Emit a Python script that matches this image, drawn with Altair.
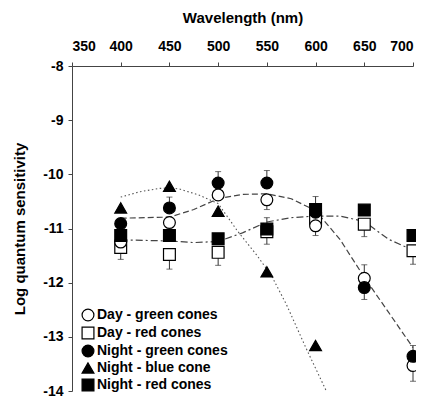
import altair as alt
import pandas as pd

# ---------------- data ----------------
wavelengths = [400, 450, 500, 550, 600, 650, 700]
series_names = ["Day - green cones", "Day - red cones", "Night - green cones",
                "Night - blue cone", "Night - red cones"]
series_shapes = ["circle", "square", "circle", "triangle-up", "square"]
series_fills = ["white", "white", "black", "black", "black"]

day_green = [-11.25, -10.89, -10.38, -10.47, -10.95, -11.92, -13.53]
day_red = [-11.35, -11.48, -11.44, -11.06, -10.82, -10.92, -11.41]
night_green = [-10.91, -10.62, -10.16, -10.16, -10.70, -12.09, -13.36]
night_blue = [-10.62, -10.22, -10.68, -11.80, -13.16, None, None]
night_red = [-11.13, -11.13, -11.19, -11.01, -10.65, -10.66, -11.13]

# error bars: series, wavelength, end value
err_series = ["Day - red cones", "Day - red cones", "Day - red cones", "Day - red cones", "Day - red cones",
              "Day - green cones", "Day - green cones", "Day - green cones", "Day - green cones",
              "Night - green cones", "Night - green cones", "Night - green cones", "Night - green cones",
              "Night - green cones",
              "Night - red cones", "Night - red cones", "Night - red cones"]
err_wl = [400, 450, 500, 650, 700,
          550, 600, 650, 700,
          450, 500, 550, 650, 700,
          550, 550, 600]
err_end = [-11.57, -11.75, -11.68, -11.15, -11.66,
           -10.65, -11.13, -11.67, -13.82,
           -10.42, -9.95, -9.93, -12.31, -13.16,
           -10.80, -11.29, -10.41]

# fitted template curves
blue_wl = [400, 420, 440, 450, 460, 480, 500, 520, 540, 555, 570, 590, 611]
blue_val = [-10.42, -10.32, -10.26, -10.25, -10.27, -10.38, -10.54, -11.05, -11.50, -11.88, -12.40, -13.20, -14.0]
green_wl = [400, 450, 475, 500, 525, 550, 575, 600, 625, 650, 675, 700]
green_val = [-10.81, -10.79, -10.65, -10.45, -10.37, -10.36, -10.45, -10.67, -11.20, -11.90, -12.55, -13.20]
red_wl = [400, 450, 475, 500, 525, 550, 575, 600, 625, 650, 675, 700]
red_val = [-11.21, -11.23, -11.26, -11.24, -11.08, -10.88, -10.80, -10.77, -10.77, -10.87, -11.20, -11.40]

# ---------------- tables ----------------
series_values = {
    "Day - red cones": day_red,
    "Day - green cones": day_green,
    "Night - green cones": night_green,
    "Night - red cones": night_red,
    "Night - blue cone": night_blue,
}
rows = []
for order, (name, vals) in enumerate(series_values.items()):
    for wl, v in zip(wavelengths, vals):
        if v is not None:
            rows.append({"series": name, "wl": wl, "val": v, "ord": order})
points_df = pd.DataFrame(rows)

lookup = {(r["series"], r["wl"]): r["val"] for r in rows}
err_df = pd.DataFrame({
    "series": err_series, "wl": err_wl, "end": err_end,
    "val": [lookup[(s, w)] for s, w in zip(err_series, err_wl)],
})

blue_df = pd.DataFrame({"wl": blue_wl, "val": blue_val})
green_df = pd.DataFrame({"wl": green_wl, "val": green_val})
red_df = pd.DataFrame({"wl": red_wl, "val": red_val})

FONT = "Liberation Sans"
AX = "#444444"

xscale = alt.Scale(domain=[350, 700], nice=False)
yscale = alt.Scale(domain=[-14, -8], nice=False)

x_enc = alt.X("wl:Q", scale=xscale, axis=alt.Axis(
    orient="top", values=[350, 400, 450, 500, 550, 600, 650, 700], title="Wavelength (nm)",
    format="d",
    tickSize=4, labelPadding=9, titlePadding=14, grid=False,
    domainColor=AX, tickColor=AX, labelFont=FONT, labelFontSize=14, labelFontWeight="bold",
    labelColor="black", titleFont=FONT, titleFontSize=15, titleFontWeight="bold", titleColor="black"))
y_enc = alt.Y("val:Q", scale=yscale, axis=alt.Axis(
    values=[-8, -9, -10, -11, -12, -13, -14], title="Log quantum sensitivity",
    labelExpr="'-' + format(abs(datum.value), 'd')",
    tickSize=4, labelPadding=5, titlePadding=15, grid=False,
    domainColor=AX, tickColor=AX, labelFont=FONT, labelFontSize=14, labelFontWeight="bold",
    labelColor="black", titleFont=FONT, titleFontSize=15, titleFontWeight="bold", titleColor="black"))

x_plain = alt.X("wl:Q", scale=xscale)
y_plain = alt.Y("val:Q", scale=yscale)

blue_line = alt.Chart(blue_df).mark_line(
    color="#555555", strokeWidth=1.1, strokeDash=[1.5, 2.5]).encode(x=x_enc, y=y_enc)
green_line = alt.Chart(green_df).mark_line(
    color="#444444", strokeWidth=1.2, strokeDash=[6, 3]).encode(x=x_plain, y=y_plain)
red_line = alt.Chart(red_df).mark_line(
    color="#444444", strokeWidth=1.2, strokeDash=[7, 3, 2, 3]).encode(x=x_plain, y=y_plain)

err_rule = alt.Chart(err_df).mark_rule(color="#333333", strokeWidth=1).encode(
    x=x_plain, y=y_plain, y2=alt.Y2("end:Q"))
err_cap = alt.Chart(err_df).mark_tick(
    color="#333333", orient="horizontal", size=6, thickness=1).encode(
    x=x_plain, y=alt.Y("end:Q", scale=yscale))

legend = alt.Legend(
    title=None, orient="none", legendX=9, legendY=242, padding=0,
    labelFont=FONT, labelFontSize=14, labelFontWeight="bold", labelColor="black",
    symbolSize=140, symbolStrokeWidth=1.2,
    rowPadding=0, labelOffset=2)

points = alt.Chart(points_df).mark_point(
    size=140, strokeWidth=1.2, opacity=1, filled=False).encode(
    x=x_plain, y=y_plain,
    shape=alt.Shape("series:N", scale=alt.Scale(domain=series_names, range=series_shapes), legend=legend),
    fill=alt.Fill("series:N", scale=alt.Scale(domain=series_names, range=series_fills), legend=legend),
    stroke=alt.Stroke("series:N", scale=alt.Scale(domain=series_names, range=["black"] * 5), legend=legend),
    order=alt.Order("ord:Q"),
)

chart = alt.layer(blue_line, green_line, red_line, err_rule, err_cap, points).properties(
    width=341, height=325,
    autosize=alt.AutoSizeParams(type="none"),
    padding={"left": 64, "top": 58, "right": 3, "bottom": 9},
).configure_view(stroke=None)

chart.save("out.html", embed_options={"renderer": "svg", "actions": False})
